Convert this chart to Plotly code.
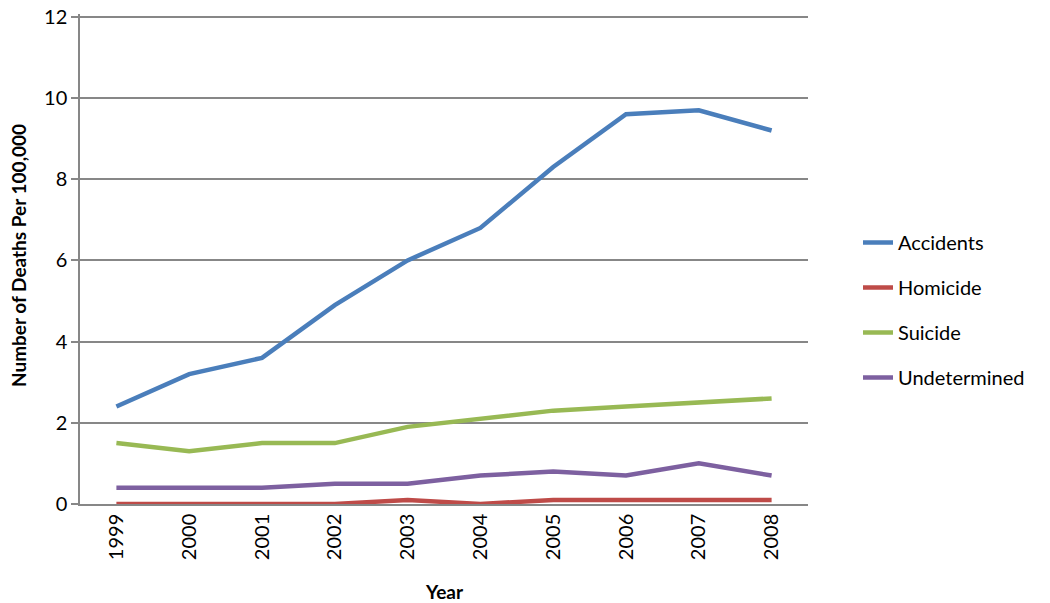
import plotly.graph_objects as go

years = ["1999", "2000", "2001", "2002", "2003", "2004", "2005", "2006", "2007", "2008"]
accidents = [2.4, 3.2, 3.6, 4.9, 6.0, 6.8, 8.3, 9.6, 9.7, 9.2]
homicide = [0.0, 0.0, 0.0, 0.0, 0.1, 0.0, 0.1, 0.1, 0.1, 0.1]
suicide = [1.5, 1.3, 1.5, 1.5, 1.9, 2.1, 2.3, 2.4, 2.5, 2.6]
undetermined = [0.4, 0.4, 0.4, 0.5, 0.5, 0.7, 0.8, 0.7, 1.0, 0.7]
y_ticks = [0, 2, 4, 6, 8, 10, 12]

series = [
    ("Accidents", accidents, "#4A7EBB"),
    ("Homicide", homicide, "#BE4B48"),
    ("Suicide", suicide, "#98B954"),
    ("Undetermined", undetermined, "#7D60A0"),
]

FONT = "Lato, Carlito, Calibri, sans-serif"
OFF = 8  # page body margin
W, H = 1050 - OFF, 603 - OFF
# plot area in screen pixels: x 80..808, y 14..504
PX0, PX1, PY0, PY1 = 80, 808, 14, 504
L, R, T, B = PX0 - OFF, 1050 - PX1, PY0 - OFF, 603 - PY1
PW = W - L - R
PH = H - T - B


def px(xs):
    return (xs - PX0) / PW


def py(ys):
    return (PY1 - ys) / PH


fig = go.Figure()
for name, vals, color in series:
    fig.add_trace(go.Scatter(x=years, y=vals, name=name, mode="lines",
                             legendgroup=name,
                             line=dict(color=color, width=4.5)))

fig.update_layout(
    width=W, height=H,
    paper_bgcolor="white", plot_bgcolor="white",
    margin=dict(l=L, r=R, t=T, b=B),
    font=dict(family=FONT, size=20, color="black"),
    legend=dict(x=px(858), y=py(310), xanchor="left", yanchor="middle",
                font=dict(family=FONT, size=20),
                tracegroupgap=16),
    showlegend=True,
)
fig.update_xaxes(
    type="category", range=[-0.5, 9.5], tickangle=-90,
    showline=True, linecolor="#878787", linewidth=1.5,
    showgrid=False, ticks="", automargin=False,
    tickfont=dict(family=FONT, size=20),
)
fig.update_yaxes(
    range=[0, 12.07], tickvals=y_ticks, showgrid=True, gridcolor="#878787", gridwidth=1.5,
    showline=True, linecolor="#878787", linewidth=1.5,
    ticks="outside", ticklen=7, tickcolor="#878787", tickwidth=1.5,
    zeroline=False, automargin=False, ticklabeloverflow="allow",
    tickfont=dict(family=FONT, size=20),
)

fig.add_annotation(text="<b>Number of Deaths Per 100,000</b>", xref="paper", yref="paper",
                   x=px(18), y=py(256), textangle=-90, showarrow=False,
                   xanchor="center", yanchor="middle",
                   font=dict(family=FONT, size=19))
fig.add_annotation(text="<b>Year</b>", xref="paper", yref="paper",
                   x=px(444), y=py(591), showarrow=False,
                   xanchor="center", yanchor="middle",
                   font=dict(family=FONT, size=19))

fig.write_html("out.html")
